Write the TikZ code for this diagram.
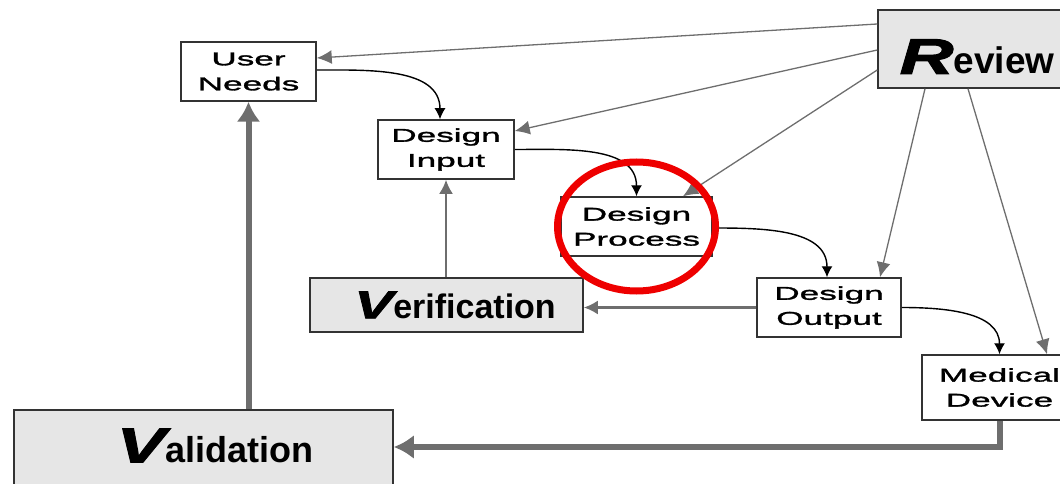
\documentclass[tikz,border=0pt]{standalone}
\usepackage{fontspec}
\usepackage{graphicx}
\setmainfont{Liberation Sans}
\newfontfamily\widefont[FakeStretch=1.9, FakeBold=1.6]{Liberation Sans}
\newfontfamily\initfont[FakeStretch=1.5, FakeBold=2]{Liberation Sans}
\usetikzlibrary{arrows.meta, calc, positioning}
\definecolor{boxgray}{HTML}{E6E6E6}
\definecolor{arrgray}{HTML}{6E6E6E}
\definecolor{edgegray}{HTML}{333333}
\definecolor{ringred}{HTML}{EE0000}
\newcommand{\initial}[2]{{\initfont\fontsize{#1}{#1}\selectfont\bfseries\itshape #2}}
\tikzset{
  % stage box style
  stage/.style={
    draw=edgegray
    , fill=white
    , line width=1.5pt
    , align=center
    , inner sep=0pt
    , minimum height=59pt
    , font=\widefont\fontsize{18.5}{25}\selectfont
  },
  % grey box for review / verification / validation
  bigstage/.style={
    stage
    , fill=boxgray
  },
}
\tikzset{
  % review arrow style
  rarr/.style={
    draw=arrgray
    , line width=1.3pt
    , -{Latex[length=15pt,width=14pt]}
    , arrgray
  },
  % flow arrow style
  flow/.style={
    line width=1.4pt
    , -{Latex[length=11pt,width=11pt]}
  },
  % grey feedback arrow style
  garr/.style={
    arrgray
    , line width=2.5pt
    , -{Latex[length=14pt,width=14pt]}
  },
  % thick grey arrow style
  tarr/.style={
    arrgray
    , line width=6pt
    , -{Latex[length=20pt,width=24pt]}
  },
}
\begin{document}
\begin{tikzpicture}[x=1pt,y=-1pt,node distance=78pt]
      \clip (0,0) rectangle (1060,484);
      \node[stage, minimum width=135pt] (un) at (248.5,71.5) {User\\Needs};
      \node[stage, minimum width=136pt, below of=un, xshift=197.5pt] (di) {Design\\Input};
      \node[stage, minimum width=151pt, below of=di, xshift=190.5pt, yshift=1pt] (dp) {Design\\Process};
      \node[stage, minimum width=144pt, below of=dp, xshift=192.5pt, yshift=-3pt] (dout) {Design\\Output};
      \node[stage, minimum width=155pt, minimum height=65pt, below of=dout, xshift=170.5pt, yshift=-2pt] (md) {Medical\\Device};
      \node[bigstage, minimum width=273pt, minimum height=54pt, below of=di, xshift=0.5pt, yshift=-77.5pt,
            font=\fontsize{34}{36}\selectfont\bfseries] (ver) {\hspace*{17pt}\initial{39}{V}erification};
      \node[bigstage, minimum width=379pt, minimum height=84pt, below of=un, xshift=-45pt, yshift=-302.5pt,
            text depth=13pt, font=\fontsize{36}{38}\selectfont\bfseries] (val) {\hspace*{23pt}\initial{49}{V}alidation};
      \node[bigstage, minimum width=190pt, minimum height=78pt, text height=50pt,
            font=\fontsize{37}{40}\selectfont\bfseries] (rev) at (973,49) {\hspace*{8pt}\initial{50}{R}eview};

      \draw[rarr] ([yshift=25pt]rev.west) -- ([yshift=13.5pt]un.east);
      \draw[rarr] ([yshift=-1pt]rev.west) -- ([yshift=18.5pt]di.east);
      \draw[rarr] ([yshift=-21pt]rev.west) -- ([xshift=46.5pt]dp.north);
      \draw[rarr] ([xshift=-48pt]rev.south) -- ([xshift=51pt]dout.north);
      \draw[rarr] ([xshift=-5pt]rev.south) -- ([xshift=47.5pt]md.north);

      \draw[flow] ([yshift=1.5pt]un.east) to[out=0, in=90] ([xshift=-6pt]di.north);
      \draw[flow] (di.east) to[out=0, in=90] (dp.north);
      \draw[flow] ([yshift=-1.5pt]dp.east) to[out=0, in=90] ([xshift=-2pt]dout.north);
      \draw[flow] (dout.east) to[out=0, in=90] (md.north);

      \draw[garr] (dout.west) -- (dout.west -| ver.east);
      \draw[garr] (ver.north -| di.south) -- (di.south);

      \draw[tarr] (md.south) |- ([yshift=5pt]val.east);
      \draw[tarr] (val.north -| un.south) -- (un.south);

      \draw[ringred, line width=7pt] (dp) ellipse [x radius=79, y radius=64.5];
    \end{tikzpicture}
\end{document}
